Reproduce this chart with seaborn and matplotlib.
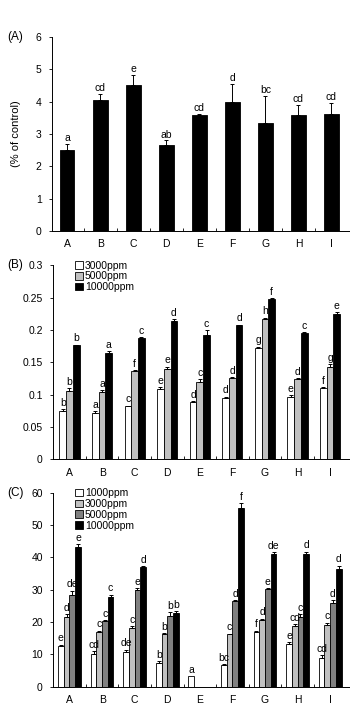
import numpy as np
import pandas as pd
import matplotlib
matplotlib.use("Agg")
import matplotlib.pyplot as plt
import seaborn as sns
from matplotlib.ticker import MultipleLocator, FixedLocator

sns.set_style("ticks")
plt.rcParams["font.family"] = ["Liberation Sans", "DejaVu Sans"]
plt.rcParams["font.size"] = 7.5
plt.rcParams["text.color"] = "black"
plt.rcParams["xtick.color"] = "black"
plt.rcParams["ytick.color"] = "black"
plt.rcParams["axes.labelcolor"] = "black"
plt.rcParams["axes.edgecolor"] = "black"

cats = list("ABCDEFGHI")

# panel A
a_mean = [2.5, 4.05, 4.5, 2.65, 3.58, 4.0, 3.35, 3.6, 3.62]
a_err = [0.2, 0.2, 0.32, 0.15, 0.05, 0.55, 0.82, 0.3, 0.35]
a_lab = ["a", "cd", "e", "ab", "cd", "d", "bc", "cd", "cd"]

# panel B
b_levels = ["3000ppm", "5000ppm", "10000ppm"]
b_mean = {
    "3000ppm": [0.075, 0.072, 0.082, 0.109, 0.089, 0.094, 0.172, 0.097, 0.110],
    "5000ppm": [0.106, 0.104, 0.136, 0.140, 0.119, 0.126, 0.217, 0.124, 0.142],
    "10000ppm": [0.176, 0.165, 0.187, 0.213, 0.192, 0.207, 0.248, 0.195, 0.224],
}
b_err = {
    "3000ppm": [0.003, 0.002, 0.001, 0.003, 0.001, 0.003, 0.002, 0.002, 0.001],
    "5000ppm": [0.004, 0.003, 0.002, 0.003, 0.005, 0.001, 0.002, 0.001, 0.005],
    "10000ppm": [0.001, 0.002, 0.002, 0.004, 0.008, 0.001, 0.001, 0.001, 0.003],
}
b_lab = {
    "3000ppm": ["b", "a", "c", "e", "d", "d", "g", "e", "f"],
    "5000ppm": ["b", "a", "f", "e", "c", "d", "h", "d", "g"],
    "10000ppm": ["b", "a", "c", "d", "c", "d", "f", "c", "e"],
}

# panel C
c_levels = ["1000ppm", "3000ppm", "5000ppm", "10000ppm"]
c_mean = {
    "1000ppm": [12.5, 10.0, 10.8, 7.5, 3.3, 6.8, 16.8, 13.2, 9.0],
    "3000ppm": [21.5, 16.8, 18.2, 16.2, 0, 16.2, 20.8, 18.8, 19.2],
    "5000ppm": [28.5, 20.2, 30.0, 21.8, 0, 26.5, 30.2, 21.5, 26.0],
    "10000ppm": [43.2, 27.7, 37.0, 22.8, 0, 55.2, 41.0, 41.0, 36.4],
}
c_err = {
    "1000ppm": [0.5, 1.0, 0.7, 0.4, 0.0, 0.3, 0.6, 0.6, 0.8],
    "3000ppm": [1.0, 0.6, 0.5, 0.5, 0.0, 0.2, 0.3, 0.6, 0.6],
    "5000ppm": [1.2, 0.5, 0.6, 1.2, 0.0, 0.3, 0.4, 1.0, 0.8],
    "10000ppm": [0.8, 0.8, 0.3, 0.6, 0.0, 1.5, 0.6, 0.8, 1.1],
}
c_lab = {
    "1000ppm": ["e", "cd", "de", "b", "a", "bc", "f", "e", "cd"],
    "3000ppm": ["d", "c", "c", "b", "", "c", "d", "cd", "c"],
    "5000ppm": ["de", "c", "e", "b", "", "d", "e", "c", "d"],
    "10000ppm": ["e", "c", "d", "b", "", "f", "de", "d", "d"],
}


def long_form(levels, means):
    rows = []
    for lv in levels:
        for c, v in zip(cats, means[lv]):
            rows.append({"cat": c, "dose": lv, "val": v})
    return pd.DataFrame(rows)


def add_err(ax, containers, errs, labels, off):
    for cont, e_list, l_list in zip(containers, errs, labels):
        for p, e, l in zip(cont.patches, e_list, l_list):
            h = p.get_height()
            if h == 0:
                p.set_linewidth(0)
                continue
            x = p.get_x() + p.get_width() / 2
            if e > 0:
                ax.errorbar(x, h, yerr=[[0], [e]], fmt="none", ecolor="black",
                            elinewidth=0.7, capsize=1.6, capthick=0.7)
            if l:
                ax.text(x, h + e + off, l, ha="center", va="bottom", fontsize=7.5)


def style_ax(ax, xlim):
    sns.despine(ax=ax)
    ax.set_xlim(*xlim)
    ax.set_xlabel("")
    ax.tick_params(axis="x", which="major", length=0, pad=6, labelsize=7.5)
    ax.xaxis.set_minor_locator(FixedLocator(np.arange(0.5, 8.5, 1)))
    ax.tick_params(axis="x", which="minor", length=2, direction="in", width=0.6)
    ax.tick_params(axis="y", length=2.5, width=0.6, pad=5, labelsize=7.5)
    for s in ["left", "bottom"]:
        ax.spines[s].set_linewidth(0.7)


fig = plt.figure(figsize=(3.5, 7.11), dpi=100)
axA = fig.add_axes([0.149, 0.675, 0.85, 0.273])
axB = fig.add_axes([0.152, 0.354, 0.847, 0.273])
axC = fig.add_axes([0.152, 0.034, 0.847, 0.273])

# A
dfA = pd.DataFrame({"cat": cats, "val": a_mean})
sns.barplot(data=dfA, x="cat", y="val", ax=axA, color="black", width=0.45,
            edgecolor="black", linewidth=0.6, errorbar=None)
add_err(axA, axA.containers, [a_err], [a_lab], 0.03)
axA.set_ylim(0, 6)
axA.yaxis.set_major_locator(MultipleLocator(1))
axA.set_ylabel("(% of control)", fontsize=8, labelpad=11)
style_ax(axA, (-0.45, 8.55))

# B
dfB = long_form(b_levels, b_mean)
sns.barplot(data=dfB, x="cat", y="val", hue="dose", ax=axB, width=0.62,
            palette=["white", "#c0c0c0", "black"], edgecolor="black",
            linewidth=0.6, errorbar=None, gap=0)
add_err(axB, axB.containers, [b_err[k] for k in b_levels],
        [b_lab[k] for k in b_levels], 0.002)
axB.set_ylim(0, 0.3)
axB.set_yticks([0, 0.05, 0.1, 0.15, 0.2, 0.25, 0.3])
axB.set_yticklabels(["0", "0.05", "0.1", "0.15", "0.2", "0.25", "0.3"])
axB.set_ylabel("")
style_ax(axB, (-0.5, 8.6))
axB.legend(loc="upper left", bbox_to_anchor=(0.06, 1.045), frameon=False,
           handlelength=0.75, handleheight=0.75, handletextpad=0.2,
           labelspacing=0.08, fontsize=7.5, borderaxespad=0)

# C
dfC = long_form(c_levels, c_mean)
sns.barplot(data=dfC, x="cat", y="val", hue="dose", ax=axC, width=0.7,
            palette=["white", "#c0c0c0", "#808080", "black"], edgecolor="black",
            linewidth=0.6, errorbar=None, gap=0)
add_err(axC, axC.containers, [c_err[k] for k in c_levels],
        [c_lab[k] for k in c_levels], 0.4)
axC.set_ylim(0, 60)
axC.yaxis.set_major_locator(MultipleLocator(10))
axC.set_ylabel("")
style_ax(axC, (-0.5, 8.6))
axC.legend(loc="upper left", bbox_to_anchor=(0.06, 1.045), frameon=False,
           handlelength=0.75, handleheight=0.75, handletextpad=0.2,
           labelspacing=0.08, fontsize=7.5, borderaxespad=0)

fig.text(0.02, 0.948, "(A)", fontsize=8.5, va="center")
fig.text(0.02, 0.627, "(B)", fontsize=8.5, va="center")
fig.text(0.02, 0.307, "(C)", fontsize=8.5, va="center")

fig.savefig("out.png", dpi=100)
